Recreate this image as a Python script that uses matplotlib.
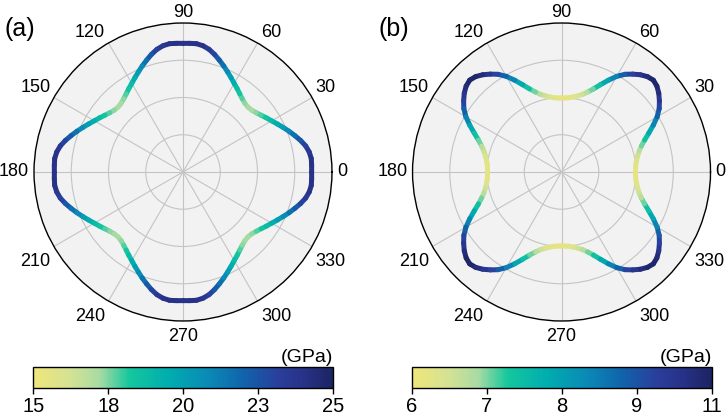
import numpy as np
import matplotlib
matplotlib.use('Agg')
import matplotlib as mpl
import matplotlib.pyplot as plt
from matplotlib.colors import LinearSegmentedColormap, Normalize
from matplotlib.collections import LineCollection

plt.rcParams['font.family'] = ['Liberation Sans', 'DejaVu Sans']

# sampling angles (degrees), 0..360 step 3
angles_deg = np.arange(0, 361, 3)

# Young's modulus, GPa
E_a = [24.00, 24.04, 24.07, 23.85, 23.40, 22.72, 21.95, 21.20, 20.45, 19.75, 19.10, 18.55, 18.02, 17.58, 17.25,
       17.13, 17.25, 17.58, 18.02, 18.55, 19.10, 19.75, 20.45, 21.20, 21.95, 22.72, 23.40, 23.85, 24.07, 24.04,
       24.00, 24.04, 24.07, 23.85, 23.40, 22.72, 21.95, 21.20, 20.45, 19.75, 19.10, 18.55, 18.02, 17.58, 17.25,
       17.13, 17.25, 17.58, 18.02, 18.55, 19.10, 19.75, 20.45, 21.20, 21.95, 22.72, 23.40, 23.85, 24.07, 24.04,
       24.00, 24.04, 24.07, 23.85, 23.40, 22.72, 21.95, 21.20, 20.45, 19.75, 19.10, 18.55, 18.02, 17.58, 17.25,
       17.13, 17.25, 17.58, 18.02, 18.55, 19.10, 19.75, 20.45, 21.20, 21.95, 22.72, 23.40, 23.85, 24.07, 24.04,
       24.00, 24.04, 24.07, 23.85, 23.40, 22.72, 21.95, 21.20, 20.45, 19.75, 19.10, 18.55, 18.02, 17.58, 17.25,
       17.13, 17.25, 17.58, 18.02, 18.55, 19.10, 19.75, 20.45, 21.20, 21.95, 22.72, 23.40, 23.85, 24.07, 24.04,
       24.00]

# Young's modulus, GPa
E_b = [6.24, 6.25, 6.30, 6.41, 6.56, 6.77, 7.08, 7.50, 8.05, 8.68, 9.31, 9.82, 10.20, 10.55, 10.82,
       10.95, 10.82, 10.55, 10.20, 9.82, 9.31, 8.68, 8.05, 7.50, 7.08, 6.77, 6.56, 6.41, 6.30, 6.25,
       6.24, 6.25, 6.30, 6.41, 6.56, 6.77, 7.08, 7.50, 8.05, 8.68, 9.31, 9.82, 10.20, 10.55, 10.82,
       10.95, 10.82, 10.55, 10.20, 9.82, 9.31, 8.68, 8.05, 7.50, 7.08, 6.77, 6.56, 6.41, 6.30, 6.25,
       6.24, 6.25, 6.30, 6.41, 6.56, 6.77, 7.08, 7.50, 8.05, 8.68, 9.31, 9.82, 10.20, 10.55, 10.82,
       10.95, 10.82, 10.55, 10.20, 9.82, 9.31, 8.68, 8.05, 7.50, 7.08, 6.77, 6.56, 6.41, 6.30, 6.25,
       6.24, 6.25, 6.30, 6.41, 6.56, 6.77, 7.08, 7.50, 8.05, 8.68, 9.31, 9.82, 10.20, 10.55, 10.82,
       10.95, 10.82, 10.55, 10.20, 9.82, 9.31, 8.68, 8.05, 7.50, 7.08, 6.77, 6.56, 6.41, 6.30, 6.25,
       6.24]

theta_ticks = [0, 30, 60, 90, 120, 150, 180, 210, 240, 270, 300, 330]
theta_labels = ['0', '30', '60', '90', '120', '150', '180', '210', '240', '270', '300', '330']

cbar_range_a = (15, 25)
cbar_ticks_a = [15, 17.5, 20, 22.5, 25]
cbar_labels_a = ['15', '18', '20', '23', '25']
cbar_range_b = (6, 11)
cbar_ticks_b = [6, 7.25, 8.5, 9.75, 11]
cbar_labels_b = ['6', '7', '8', '9', '11']

rmax_a = 27.8
rmax_b = 12.56

cmap = LinearSegmentedColormap.from_list('ylgnbu_custom', [
    (0.00, '#f0e67a'), (0.12, '#d5e293'), (0.22, '#a8dba3'), (0.32, '#14c79e'),
    (0.45, '#00adaf'), (0.58, '#0a8bb6'), (0.70, '#1064ab'), (0.82, '#2a3e9b'),
    (0.90, '#283289'), (1.00, '#1b2462')])

fig = plt.figure(figsize=(7.26, 4.16), dpi=100)

panels = [
    (0.0468, 0.0459, E_a, rmax_a, cbar_range_a, cbar_ticks_a, cbar_labels_a, '(a)', 0.006),
    (0.5682, 0.5671, E_b, rmax_b, cbar_range_b, cbar_ticks_b, cbar_labels_b, '(b)', 0.522),
]

PX2PT = 0.72
th = np.deg2rad(angles_deg)
for left, cleft, E, rmax, crange, cticks, clabels, tag, tagx in panels:
    ax = fig.add_axes([left, 0.2284, 0.4105, 0.7163], projection='polar')
    ax.set_facecolor('#f2f2f2')
    norm = Normalize(*crange)
    E = np.asarray(E)
    pts = np.column_stack([th, E])
    segs = np.stack([pts[:-1], pts[1:]], axis=1)
    lc = LineCollection(segs, colors=cmap(norm((E[:-1] + E[1:]) / 2)), linewidths=3.6,
                        capstyle='round', joinstyle='round', zorder=3)
    ax.add_collection(lc)
    ax.set_ylim(0, rmax)
    ax.set_yticks([rmax / 4, rmax / 2, 3 * rmax / 4])
    ax.set_yticklabels([])
    ax.set_xticks(np.deg2rad(theta_ticks))
    ax.set_xticklabels([])
    ax.grid(color='#c4c4c4', lw=0.8)
    ax.spines['polar'].set_linewidth(1.0)

    for t, lab in zip(theta_ticks, theta_labels):
        c, s = np.cos(np.deg2rad(t)), np.sin(np.deg2rad(t))
        if c > 0.1:
            ha, dx = 'left', 3.5 if abs(s) > 0.1 else 5.0
        elif c < -0.1:
            ha, dx = 'right', -3.5 if abs(s) > 0.1 else -5.0
        else:
            ha, dx = 'center', 0.0
        if s > 0.1:
            va, dy = 'bottom', 2.0
        elif s < -0.1:
            va, dy = 'top', -7.0
        else:
            va, dy = 'center', 0.0
        ax.annotate(lab, xy=(np.deg2rad(t), rmax), xytext=(dx * PX2PT, dy * PX2PT),
                    textcoords='offset points', ha=ha, va=va, fontsize=13,
                    annotation_clip=False)

    cax = fig.add_axes([cleft, 0.0666, 0.4132, 0.0519])
    cb = mpl.colorbar.ColorbarBase(cax, cmap=cmap, norm=norm, orientation='horizontal')
    cb.set_ticks(cticks)
    cb.set_ticklabels(clabels)
    cax.tick_params(labelsize=14.5, length=4, width=1, pad=2)
    cb.outline.set_linewidth(1.0)
    cax.text(1.0, 1.05, '(GPa)', transform=cax.transAxes, ha='right', va='bottom', fontsize=14)

    fig.text(tagx, 0.930, tag, fontsize=18, ha='left', va='center')

fig.savefig('out.png', dpi=100)
